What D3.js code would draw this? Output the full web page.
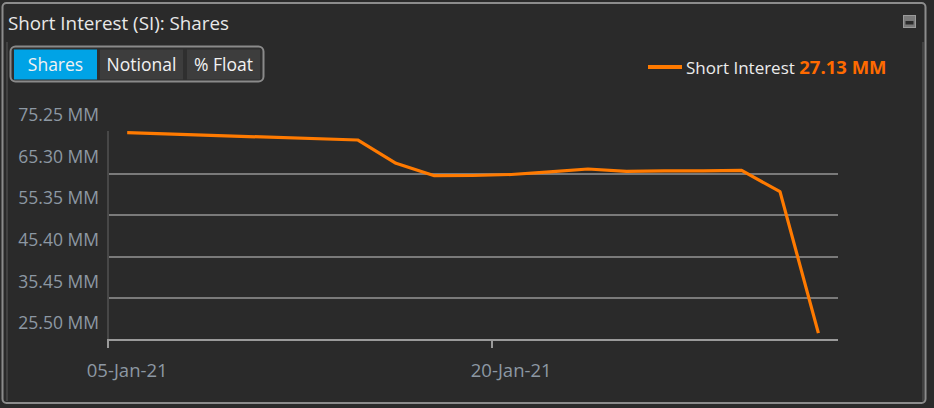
<!DOCTYPE html>
<html>
<head>
<meta charset="utf-8">
<script src="https://cdn.jsdelivr.net/npm/d3@7"></script>
<style>
html,body{margin:0;padding:0;background:#2a2a2a;}
svg{display:block;}
text{font-family:"Open Sans","Noto Sans",sans-serif;}
</style>
</head>
<body>
<svg id="chart" width="934" height="408"></svg>
<script>
// trading days on the x axis
const days = ["05-Jan-21","06-Jan-21","07-Jan-21","08-Jan-21","11-Jan-21","12-Jan-21","13-Jan-21","14-Jan-21","15-Jan-21","19-Jan-21","20-Jan-21","21-Jan-21","22-Jan-21","25-Jan-21","26-Jan-21","27-Jan-21","28-Jan-21","29-Jan-21","01-Feb-21"];
// short interest series (MM shares)
const siDates  = ["05-Jan-21","13-Jan-21","14-Jan-21","15-Jan-21","19-Jan-21","20-Jan-21","21-Jan-21","22-Jan-21","25-Jan-21","26-Jan-21","27-Jan-21","28-Jan-21","29-Jan-21","01-Feb-21"];
const siValues = [75.08, 73.34, 67.77, 64.80, 64.85, 65.09, 65.69, 66.40, 65.85, 65.93, 65.97, 66.05, 60.97, 27.13];
const yTicks = [25.50, 35.45, 45.40, 55.35, 65.30, 75.25];
const xTickLabels = ["05-Jan-21","20-Jan-21"];
const buttons = ["Shares","Notional","% Float"];
const title = "Short Interest (SI): Shares";
const legendLabel = "Short Interest";
const legendValue = "27.13 MM";

const svg = d3.select("#chart");
const orange = "#ff7a00";

// panel frame
svg.append("rect").attr("x",2.5).attr("y",3).attr("width",923).attr("height",400)
  .attr("rx",4).attr("fill","#2a2a2a").attr("stroke","#8c8c8c").attr("stroke-width",2);
svg.append("line").attr("x1",7).attr("x2",7).attr("y1",42).attr("y2",401).attr("stroke","#4a4a4a").attr("stroke-width",1.5);
svg.append("line").attr("x1",923).attr("x2",923).attr("y1",42).attr("y2",401).attr("stroke","#4a4a4a").attr("stroke-width",1.5);

// title
svg.append("text").attr("x",8).attr("y",30).attr("fill","#e8e8e8")
  .attr("font-size",18.8).text(title);

// maximize icon
svg.append("rect").attr("x",903.5).attr("y",15.5).attr("width",12).attr("height",12)
  .attr("fill","#7a7a7a").attr("stroke","#9a9a9a").attr("stroke-width",1);
svg.append("rect").attr("x",905.5).attr("y",21).attr("width",8).attr("height",3.5).attr("fill","#2a2a2a");

// button group
svg.append("rect").attr("x",10.5).attr("y",46.5).attr("width",253).attr("height",35)
  .attr("rx",5).attr("fill","#2f2f2f").attr("stroke","#8a8a8a").attr("stroke-width",2);
const bx = d3.scaleOrdinal().domain(buttons).range([14,100,187]);
const bw = d3.scaleOrdinal().domain(buttons).range([83,83,73]);
const bg = svg.append("g");
bg.selectAll("rect.btn").data(buttons).join("rect").attr("class","btn")
  .attr("x",d=>bx(d)).attr("y",49.5).attr("width",d=>bw(d)).attr("height",30)
  .attr("fill",(d,i)=>i===0?"#00a3e6":"#3d3d3d");
bg.selectAll("text").data(buttons).join("text")
  .attr("x",d=>bx(d)+bw(d)/2).attr("y",70.5).attr("text-anchor","middle")
  .attr("fill","#f2f2f2").attr("font-size",17.5).text(d=>d);

// legend
svg.append("line").attr("x1",648).attr("x2",682).attr("y1",67).attr("y2",67)
  .attr("stroke",orange).attr("stroke-width",4);
const lt = svg.append("text").attr("x",686).attr("y",73.5).attr("font-size",17);
lt.append("tspan").attr("fill","#ececec").text(legendLabel + " ");
lt.append("tspan").attr("fill","#ff6a00").attr("font-weight","bold").attr("font-size",18.5).text(legendValue);

// scales
const x = d3.scaleBand().domain(days).range([108, 837.6]);
const y = d3.scaleLinear().domain([25.5, 75.25]).range([340, 132]);

// gridlines
svg.append("g").selectAll("line").data(yTicks.slice(1,5)).join("line")
  .attr("x1",108).attr("x2",838).attr("y1",d=>Math.round(y(d))).attr("y2",d=>Math.round(y(d)))
  .attr("stroke","#7a7a7a").attr("stroke-width",2);

// y axis line
svg.append("line").attr("x1",108).attr("x2",108).attr("y1",131).attr("y2",340)
  .attr("stroke","#474747").attr("stroke-width",2);

// x axis
const xAxis = d3.axisBottom(x).tickValues(xTickLabels).tickSize(8).tickSizeOuter(0);
const xg = svg.append("g").attr("transform","translate(0,340)").call(xAxis);
xg.select(".domain").remove();
xg.selectAll(".tick").attr("transform",d=>`translate(${x(d)},0)`);
xg.selectAll(".tick line").attr("stroke","#9a9a9a").attr("stroke-width",2);
xg.selectAll(".tick text").attr("x",x.bandwidth()/2).attr("y",24).attr("dy","0.71em")
  .attr("fill","#8d98a3").attr("font-size",18.5).attr("font-family","Open Sans, Noto Sans, sans-serif");
svg.append("line").attr("x1",107).attr("x2",838).attr("y1",340).attr("y2",340)
  .attr("stroke","#9a9a9a").attr("stroke-width",2);

// y labels
svg.append("g").selectAll("text").data(yTicks).join("text")
  .attr("x",99).attr("y",d=>y(d)-17).attr("dy","0.35em").attr("text-anchor","end")
  .attr("fill","#8d98a3").attr("font-size",17.5).text(d=>d.toFixed(2)+" MM");

// line
const pts = siDates.map((d,i)=>[d, siValues[i]]);
const line = d3.line().x(d=>x(d[0])+x.bandwidth()/2).y(d=>y(d[1]));
svg.append("path").datum(pts).attr("d",line).attr("fill","none")
  .attr("stroke",orange).attr("stroke-width",3.2).attr("stroke-linejoin","round");
</script>
</body>
</html>
